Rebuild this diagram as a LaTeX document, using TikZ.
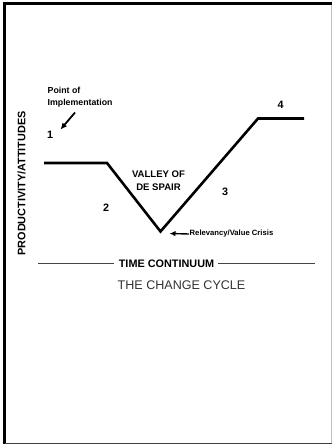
\documentclass[tikz,border=0pt]{standalone}
\usepackage{fontspec}
\setmainfont{Liberation Sans}
\usetikzlibrary{arrows.meta}
\definecolor{txtgray}{HTML}{333333}
\definecolor{rulegray}{HTML}{444444}
\tikzset{
  curve/.style={line width=2.6pt, line join=miter, line cap=butt},
  lbl/.style={inner sep=0pt, font=\bfseries\fontsize{9}{10}\selectfont},
  numlbl/.style={inner sep=0pt, font=\bfseries\fontsize{10.8}{12}\selectfont},
  ptr/.style={line width=1.8pt, -{Latex[length=6.5pt,width=6pt]}},
}
\begin{document}
\begin{tikzpicture}[x=1bp,y=-1bp]
\useasboundingbox (0,0) rectangle (333,445);
% frame
\draw[line width=3bp] (3,4) -- (332,4);
\draw[line width=3bp] (4.5,2.5) -- (4.5,444);
\draw[line width=1bp, color=black!75] (4.5,443.5) -- (332,443.5);
\draw[line width=1.2bp, color=black!25] (331.6,5.5) -- (331.6,443);
% curve
\coordinate (c0) at (44,163);
\coordinate (c1) at (107,163);
\coordinate (c2) at (160.5,231.5);
\coordinate (c3) at (258,118.5);
\coordinate (c4) at (304,118.5);
\draw[curve] (c0) -- (c1) -- (c2) -- (c3) -- (c4);
% labels
\node[lbl, align=left, anchor=north west, font=\bfseries\fontsize{8.8}{11.5}\selectfont] (poi) at (47.5,87) {Point of\\Implementation};
\coordinate (poitail) at (75,112.5);
\coordinate (poihead) at (60.5,129.5);
\draw[ptr] (poitail) -- (poihead);
\node[numlbl] (n1) at (50,135) {1};
\node[numlbl] (n2) at (106,208) {2};
\node[numlbl] (n3) at (225,192) {3};
\node[numlbl] (n4) at (280.5,105) {4};
\node[lbl, align=center, font=\bfseries\fontsize{9.6}{13}\selectfont] (valley) at (158.5,180.5) {VALLEY OF\\DE SPAIR};
\node[lbl, anchor=west, font=\bfseries\fontsize{7.7}{9}\selectfont] (crisis) at (189.5,234) {Relevancy/Value Crisis};
\coordinate (crisisarrow) at (169.5,233.5);
\draw[line width=1.4pt, -{Latex[length=6pt,width=5.5pt]}] (crisis.west) ++(-0.5,0) coordinate (ct) (ct) -- (crisisarrow);
\node[lbl, rotate=90, font=\bfseries\fontsize{10.9}{12}\selectfont] (yaxis) at (21.5,183.5) {PRODUCTIVITY/ATTITUDES};
\node[lbl, font=\bfseries\fontsize{10.9}{12}\selectfont] (time) at (166.5,263.5) {TIME CONTINUUM};
\coordinate (tl) at (38,263.5);
\coordinate (tr) at (315,263.5);
\draw[line width=1.4bp, rulegray] (tl) -- ([xshift=-5]time.west);
\draw[line width=1.4bp, rulegray] ([xshift=4]time.east) -- (tr);
\node[inner sep=0pt, text=txtgray, font=\fontsize{12.6}{14}\selectfont] (title) at (181.5,285.5) {THE CHANGE CYCLE};
\end{tikzpicture}
\end{document}
